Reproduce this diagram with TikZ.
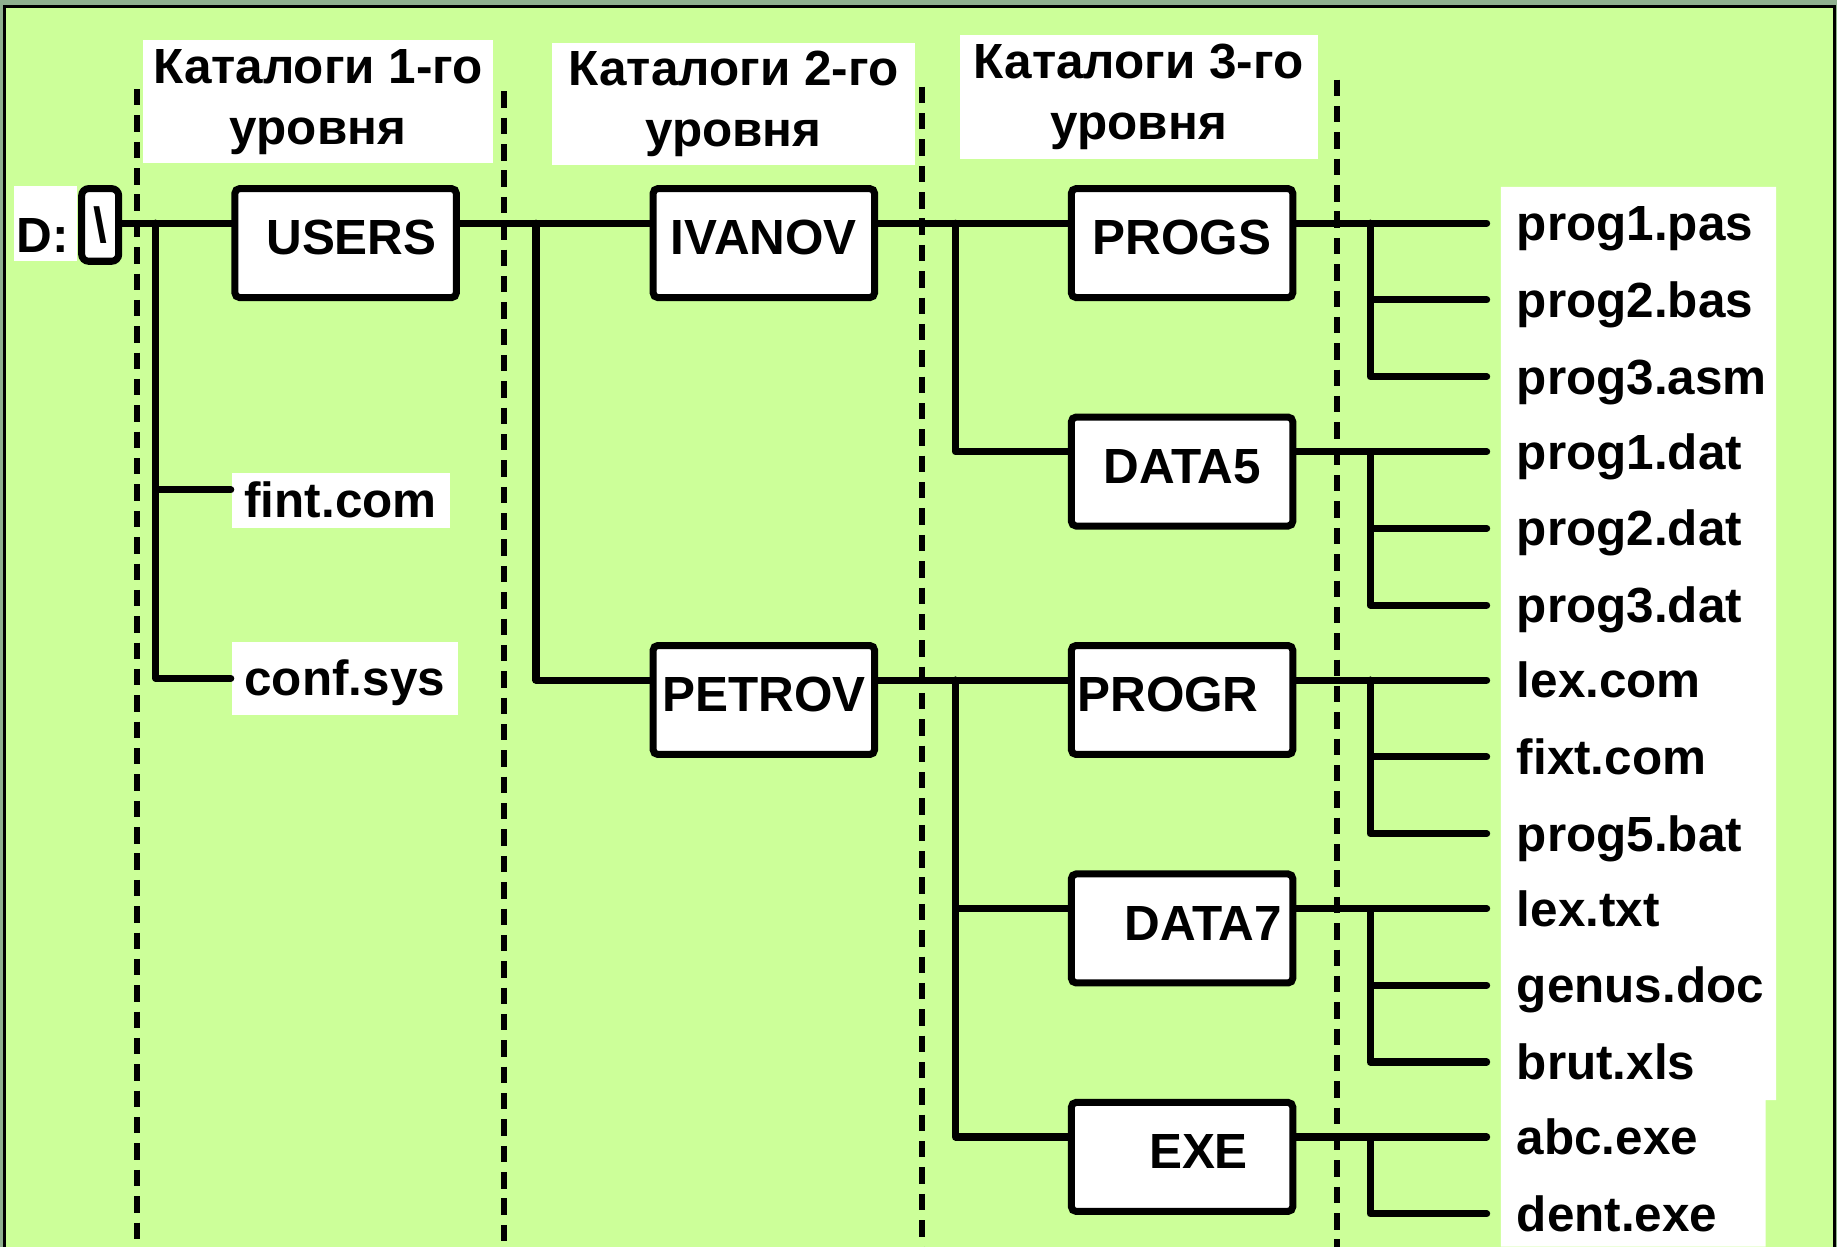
\documentclass[tikz,border=0pt]{standalone}
\usepackage{fontspec}
\setmainfont{Liberation Sans}
\usetikzlibrary{calc,positioning}
\definecolor{PageGreen}{HTML}{CCFF99}
\definecolor{FrameGray}{HTML}{8FB08F}
\newcommand\treefont{\fontsize{12}{14.8}\selectfont\bfseries}

\begin{document}
\begin{tikzpicture}[
  x=0.1mm,y=-0.1mm,
  node distance=9.6mm and 16.2mm,
  dirbox/.style={draw,line width=0.6mm,fill=white,rounded corners=0.4mm,minimum width=18.9mm,minimum height=9.3mm,inner sep=0pt,font=\treefont,text height=3mm,text depth=1mm},
  head/.style={fill=white,align=center,font=\treefont,inner sep=0pt},
  fname/.style={anchor=west,font=\treefont,inner xsep=2.5mm,inner ysep=0pt,text height=3mm,text depth=0pt},
  filebox/.style={fname,fill=white,inner xsep=1.1mm},
  wire/.style={line width=0.6mm,line cap=round,line join=round},
  guide/.style={line width=0.5mm,dash pattern=on 1.4mm off 0.85mm}
]
\useasboundingbox (0,0) rectangle (1568,1064);
\fill[FrameGray] (0,0) rectangle (1568,1064);
\fill[PageGreen] (3.5,5.5) rectangle (1566,1064);
\draw[line width=0.25mm] (3.5,1064) -- (3.5,5.5) -- (1566,5.5) -- (1566,1064);
\foreach \x/\y in {117/76,430/78,787/74,1141/68}{\draw[guide] (\x,\y) -- (\x,1064);}
\fill[white] (1281,159.5) rectangle (1516,939) (1281,939) rectangle (1507,1064);

\node[head,minimum width=29.9mm,minimum height=10.5mm] (lvl1) at (271.5,87) {Каталоги 1-го\\уровня};
\node[head,minimum width=31mm,minimum height=10.4mm] (lvl2) at (626,89) {Каталоги 2-го\\уровня};
\node[head,minimum width=30.6mm,minimum height=10.6mm] (lvl3) at (972,83) {Каталоги 3-го\\уровня};

\node[fill=white,font=\treefont,inner xsep=0.2mm,inner ysep=0pt,text width=4.95mm,align=left,minimum height=6.4mm,text height=4.9mm,text depth=0pt] (drive) at (39,191) {D:};
\node[draw,line width=0.6mm,fill=white,rounded corners=0.6mm,minimum width=3.16mm,minimum height=6.2mm,inner sep=0pt,font=\treefont] (root) at (85.5,192) {\textbackslash};

\node[dirbox] (users) at (295,207.5) {\hspace*{1mm}USERS};
\node[dirbox,right=of users] (ivanov) {IVANOV};
\node[dirbox,right=of ivanov] (progs) {PROGS};
\node[dirbox,below=of progs] (data5) {DATA5};
\node[dirbox,below=of data5] (progr) {PROGR\hspace*{2.4mm}};
\node[dirbox,below=of progr] (data7) {\hspace*{3.6mm}DATA7};
\node[dirbox,below=of data7] (exe) {\hspace*{2.8mm}EXE};
\node[dirbox,left=of progr] (petrov) {PETROV};
\foreach \n in {users,ivanov,petrov,progs,data5,progr,data7,exe}{
  \coordinate (\n-w) at ([yshift=1.7mm]\n.west);
  \coordinate (\n-e) at ([yshift=1.7mm]\n.east);
}

\node[filebox,minimum height=4.7mm] (fint) at (197,427) {fint.com};
\node[filebox,minimum height=6.2mm] (conf) at (197,579) {conf.sys};
\foreach \d/\i/\txt in {progs/0/prog1.pas,progs/1/prog2.bas,progs/2/prog3.asm,
  data5/0/prog1.dat,data5/1/prog2.dat,data5/2/prog3.dat,
  progr/0/lex.com,progr/1/fixt.com,progr/2/prog5.bat,
  data7/0/lex.txt,data7/1/genus.doc,data7/2/brut.xls,
  exe/0/abc.exe,exe/1/dent.exe}{
  \node[fname] (\d-\i) at ([xshift=16.25mm,yshift=-\i*6.55mm]\d-e) {\txt};
}

\coordinate (j1) at ([xshift=-6.45mm]users-w);
\coordinate (j2) at ([xshift=-9.7mm]ivanov-w);
\coordinate (j3) at ([xshift=-9.6mm]progs-w);
\coordinate (j4) at ([xshift=-9.6mm]progr-w);
\draw[wire] (root.east |- users-w) -- (users-w);
\draw[wire] (j1) |- ([yshift=0.9mm]fint.west);
\draw[wire] (j1) |- (conf.west);
\draw[wire] (users-e) -- (ivanov-w);
\draw[wire] (j2) |- (petrov-w);
\draw[wire] (ivanov-e) -- (progs-w);
\draw[wire] (j3) |- (data5-w);
\draw[wire] (petrov-e) -- (progr-w);
\draw[wire] (j4) |- (data7-w);
\draw[wire] (j4) |- (exe-w);
\foreach \d in {progs,data5,progr,data7,exe}{\draw[wire] (\d-e) -- (\d-0.west);}
\foreach \d/\i in {progs/1,progs/2,data5/1,data5/2,progr/1,progr/2,data7/1,data7/2,exe/1}{
  \draw[wire] ([xshift=6.3mm]\d-e) |- (\d-\i.west);
}
\end{tikzpicture}
\end{document}
